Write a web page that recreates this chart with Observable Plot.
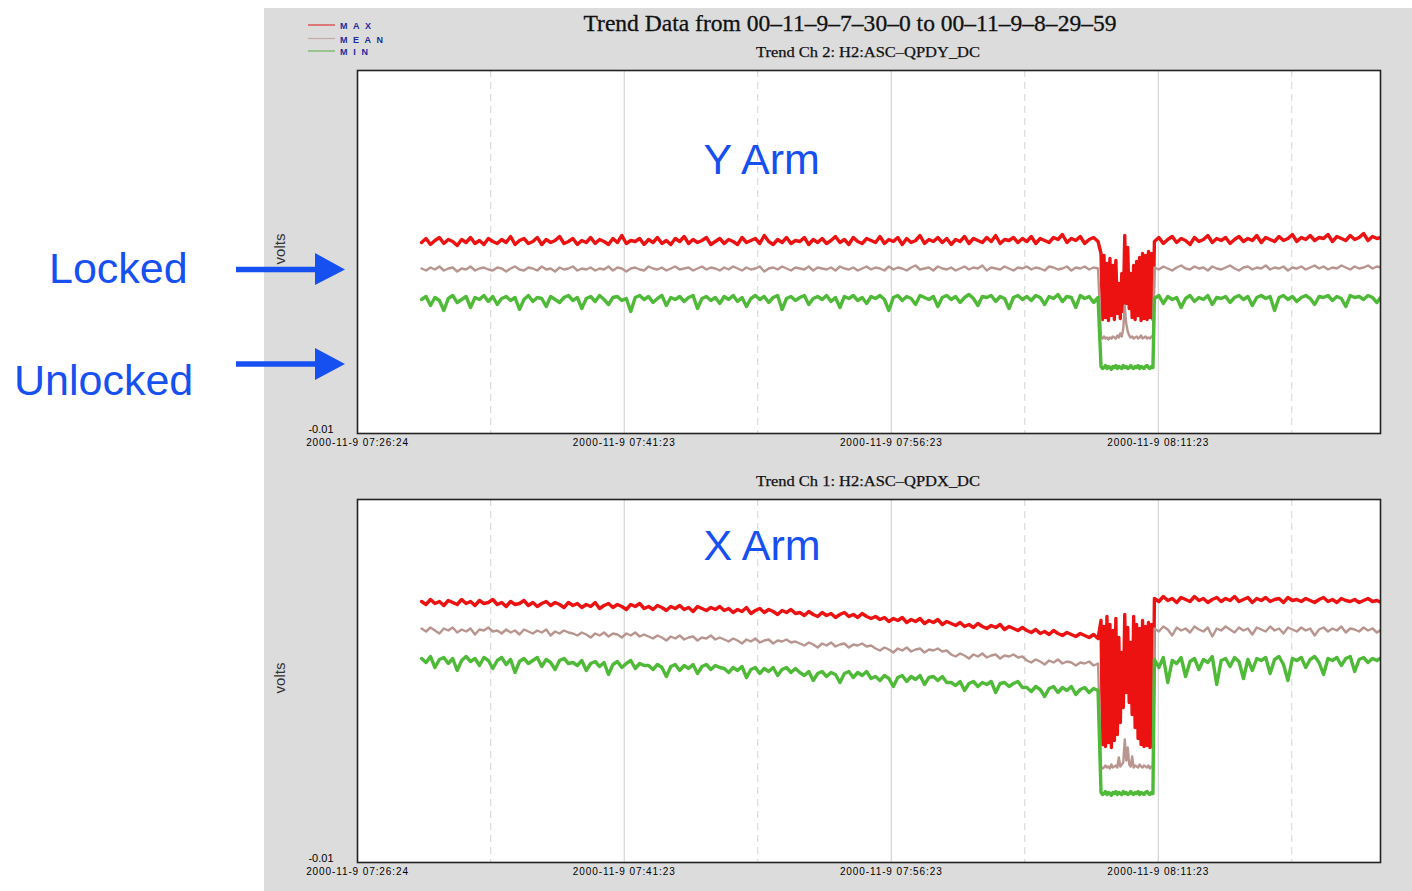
<!DOCTYPE html>
<html><head><meta charset="utf-8">
<script src="https://cdn.jsdelivr.net/npm/d3@7"></script>
<script src="https://cdn.jsdelivr.net/npm/@observablehq/plot@0.6"></script>
<style>
body{margin:0;background:#fff;}
#page{position:relative;width:1412px;height:891px;overflow:hidden;font-family:"Liberation Sans",Arial,sans-serif;}
#panel{position:absolute;left:264px;top:8px;width:1148px;height:883px;background:#dcdcdc;}
#top,#bottom{position:absolute;left:0;}
#top{top:0px}
#bottom{top:453px}
#overlay{position:absolute;left:0;top:0;pointer-events:none}
g[aria-label="x-axis tick label"]{letter-spacing:0.9px}
</style></head>
<body><div id="page"><div id="panel"></div><div id="top"></div><div id="bottom"></div>
<svg id="overlay" width="1412" height="891">
<text x="850" y="31" text-anchor="middle" font-family="Liberation Serif" font-size="23" textLength="533" lengthAdjust="spacingAndGlyphs" fill="#111" stroke="#111" stroke-width="0.3">Trend Data from 00–11–9–7–30–0 to 00–11–9–8–29–59</text>
<text x="868" y="57" text-anchor="middle" font-family="Liberation Serif" font-size="14" textLength="224" lengthAdjust="spacingAndGlyphs" fill="#111" stroke="#111" stroke-width="0.25">Trend Ch 2: H2:ASC–QPDY_DC</text>
<text x="868" y="486" text-anchor="middle" font-family="Liberation Serif" font-size="14" textLength="224" lengthAdjust="spacingAndGlyphs" fill="#111" stroke="#111" stroke-width="0.25">Trend Ch 1: H2:ASC–QPDX_DC</text>
<g font-family="Liberation Sans" font-weight="bold" font-size="9" fill="#1c2a9c">
<line x1="308" x2="335" y1="25" y2="25" stroke="#e03434" stroke-width="1.2"/>
<line x1="308" x2="335" y1="38.5" y2="38.5" stroke="#c4aaa4" stroke-width="1.2"/>
<line x1="308" x2="335" y1="51" y2="51" stroke="#6cb45c" stroke-width="1.2"/>
<text x="340" y="29" textLength="31" lengthAdjust="spacing">MAX</text>
<text x="340" y="42.5" textLength="43" lengthAdjust="spacing">MEAN</text>
<text x="340" y="55" textLength="28" lengthAdjust="spacing">MIN</text>
</g>
<g fill="#1650f0" font-family="Liberation Sans" font-size="43">
<text x="49" y="283">Locked</text>
<text x="14" y="395">Unlocked</text>
</g>
<g stroke="#1650f0" fill="#1650f0">
<line x1="236" x2="318" y1="269.5" y2="269.5" stroke-width="5.5"/>
<polygon points="315,253 345,269.5 315,285" stroke="none"/>
<line x1="236" x2="318" y1="364" y2="364" stroke-width="5.5"/>
<polygon points="315,348 345,364 315,380" stroke="none"/>
</g>
</svg>
</div>
<script>
// sampling (timestamps of the trend samples)
const sampleStart = new Date(2000,10,9,7,30,0);   // locked period A, 15 s samples
const unlockStart = new Date(2000,10,9,8,8,10);   // unlocked period, 5 s samples
const relockStart = new Date(2000,10,9,8,11,10);  // locked period B, 15 s samples
const lockedStep = 15, unlockedStep = 5;
const xDomain = [new Date(2000,10,9,7,26,24), new Date(2000,10,9,8,23,52)];
const tickTimes = [new Date(2000,10,9,7,26,24), new Date(2000,10,9,7,41,23), new Date(2000,10,9,7,56,23), new Date(2000,10,9,8,11,23)];
const gridMajor = [new Date(2000,10,9,7,41,23), new Date(2000,10,9,7,56,23), new Date(2000,10,9,8,11,23)];
const gridMinor = [new Date(2000,10,9,7,33,53), new Date(2000,10,9,7,48,53), new Date(2000,10,9,8,3,53), new Date(2000,10,9,8,18,53)];
const yTicks = [-0.01];

// ---- Y arm (Trend Ch 2: H2:ASC-QPDY_DC), volts ----
const yArmMaxA = [
.181,.185,.179,.183,.186,.180,.184,.182,.178,.184,.181,.186,.180,.183,.179,.185,.182,
.180,.184,.181,.187,.179,.183,.185,.180,.182,.186,.179,.184,.181,.183,.187,.180,.182,
.185,.179,.183,.181,.186,.180,.184,.182,.179,.185,.181,.188,.180,.183,.182,.185,.179,
.184,.181,.186,.180,.183,.179,.185,.182,.187,.180,.184,.181,.183,.186,.179,.182,.185,
.180,.184,.182,.179,.186,.181,.183,.185,.180,.188,.182,.179,.184,.181,.186,.180,.183,
.182,.186,.179,.184,.181,.185,.180,.183,.187,.181,.184,.179,.186,.182,.180,.185,.183,
.181,.187,.180,.184,.182,.186,.179,.185,.181,.183,.188,.180,.184,.182,.186,.181,.185,
.179,.184,.182,.187,.180,.185,.183,.181,.186,.182,.188,.180,.184,.183,.186,.181,.185,
.182,.187,.180,.185,.183,.181,.186,.184,.189,.181,.185,.183,.187,.180,.184,.186,.182];
const yArmMaxU = [.170,.104,.168,.106,.160,.103,.165,.108,.158,.104,.163,.110,.140,.105,.150,.112,.188,.120,.176,.115,.150,.106,.158,.104,.162,.108,.166,.103,.170,.105,.168,.104,.172,.106,.170,.104];
const yArmMaxB = [
.182,.186,.180,.184,.187,.181,.185,.183,.179,.186,.182,.184,.188,.181,.185,.183,.186,
.180,.184,.187,.182,.185,.183,.188,.181,.186,.184,.182,.187,.183,.185,.189,.182,.186,
.184,.188,.183,.186,.185,.189,.182,.187,.185,.183,.188,.184,.186,.190,.183,.187,.185,.186];
const yArmMeanA = [
.155,.153,.156,.154,.157,.153,.155,.156,.152,.155,.154,.157,.153,.155,.156,.154,.153,
.156,.155,.152,.155,.157,.154,.153,.156,.155,.153,.157,.154,.155,.152,.156,.154,.155,
.157,.153,.155,.154,.156,.153,.155,.154,.157,.153,.156,.155,.152,.155,.156,.154,.153,
.157,.155,.154,.156,.153,.155,.157,.154,.155,.156,.153,.155,.157,.154,.156,.155,.153,
.156,.154,.157,.155,.153,.156,.154,.155,.157,.152,.155,.156,.154,.157,.155,.153,.156,
.155,.154,.157,.153,.156,.155,.154,.156,.153,.157,.155,.154,.156,.153,.155,.157,.154,
.156,.155,.153,.157,.154,.156,.155,.153,.156,.158,.154,.155,.156,.153,.157,.155,.154,
.156,.153,.155,.157,.154,.156,.155,.158,.153,.156,.155,.154,.157,.155,.153,.156,.155,
.157,.154,.156,.155,.153,.157,.156,.154,.155,.157,.153,.156,.155,.157,.154,.156,.155];
const yArmMeanU = [.086,.085,.087,.085,.086,.084,.086,.085,.087,.086,.085,.088,.086,.090,.087,.095,.118,.100,.092,.088,.086,.087,.085,.086,.087,.085,.086,.088,.085,.086,.087,.085,.086,.085,.087,.086];
const yArmMeanB = [
.156,.154,.157,.155,.153,.156,.158,.155,.154,.157,.155,.156,.153,.157,.155,.154,.156,
.158,.155,.153,.156,.157,.154,.156,.155,.158,.154,.156,.155,.157,.153,.156,.155,.157,
.154,.156,.158,.155,.157,.154,.156,.155,.158,.156,.154,.157,.155,.156,.158,.155,.157,.156];
const yArmMinA = [
.124,.127,.118,.126,.123,.113,.125,.128,.121,.124,.127,.116,.126,.124,.128,.122,.127,
.119,.125,.127,.123,.126,.114,.124,.128,.122,.126,.125,.117,.127,.124,.121,.126,.128,
.123,.126,.115,.125,.127,.122,.128,.124,.119,.126,.127,.123,.125,.112,.126,.128,.124,
.127,.121,.125,.128,.118,.126,.124,.127,.122,.126,.128,.115,.125,.127,.123,.126,.120,
.127,.124,.128,.122,.126,.117,.125,.128,.124,.127,.121,.126,.128,.114,.125,.127,.123,
.126,.128,.119,.125,.127,.124,.128,.122,.126,.116,.127,.125,.128,.123,.126,.120,.127,
.125,.128,.124,.113,.126,.128,.123,.127,.125,.119,.128,.126,.124,.127,.117,.126,.128,
.124,.127,.121,.126,.129,.125,.118,.127,.126,.128,.122,.127,.125,.115,.126,.128,.124,
.127,.123,.128,.126,.119,.127,.125,.129,.122,.127,.126,.116,.128,.125,.127,.121,.126];
const yArmMinU = [.057,.055,.056,.058,.055,.057,.056,.054,.057,.056,.058,.055,.057,.056,.055,.058,.056,.057,.055,.056,.058,.056,.055,.057,.056,.058,.055,.057,.056,.055,.057,.058,.056,.055,.057,.056];
const yArmMinB = [
.125,.128,.120,.127,.124,.126,.116,.125,.128,.122,.126,.124,.128,.119,.126,.125,.127,
.121,.126,.128,.124,.127,.118,.126,.128,.125,.127,.113,.126,.128,.124,.127,.122,.126,
.128,.125,.119,.127,.126,.128,.123,.127,.125,.117,.128,.126,.127,.124,.128,.126,.121,.127];

// ---- X arm (Trend Ch 1: H2:ASC-QPDX_DC), volts ----
const xArmMaxA = [
.251,.248,.253,.249,.251,.247,.252,.250,.248,.253,.249,.251,.247,.252,.249,.250,.253,
.248,.250,.246,.251,.248,.249,.252,.247,.250,.246,.249,.251,.247,.250,.248,.245,.250,
.247,.249,.245,.248,.246,.250,.244,.247,.249,.245,.248,.246,.243,.248,.246,.249,.244,
.246,.243,.247,.245,.242,.246,.244,.247,.243,.245,.241,.246,.244,.242,.245,.243,.246,
.242,.244,.240,.243,.241,.245,.239,.242,.244,.240,.243,.241,.238,.242,.240,.243,.239,
.240,.237,.241,.238,.236,.240,.237,.239,.235,.238,.240,.236,.238,.235,.239,.236,.234,
.236,.233,.235,.231,.234,.232,.235,.230,.233,.231,.234,.229,.232,.230,.233,.228,.231,
.229,.227,.230,.226,.228,.225,.229,.226,.224,.227,.225,.228,.223,.226,.224,.222,.225,
.222,.220,.223,.219,.221,.218,.222,.219,.217,.220,.218,.216,.219,.217,.215,.218,.214];
const xArmMaxU = [.232,.108,.226,.106,.236,.110,.228,.105,.222,.112,.234,.118,.215,.130,.200,.145,.238,.160,.225,.150,.210,.138,.236,.125,.228,.114,.224,.108,.232,.106,.226,.107,.230,.105,.228,.106];
const xArmMaxB = [
.254,.251,.256,.252,.254,.250,.255,.253,.251,.256,.252,.254,.250,.253,.255,.251,.254,
.252,.256,.251,.253,.255,.250,.254,.252,.255,.251,.253,.254,.250,.255,.252,.253,.251,
.254,.252,.250,.253,.255,.251,.253,.250,.254,.252,.251,.253,.250,.252,.254,.251,.252,.250];
const xArmMeanA = [
.224,.221,.225,.222,.219,.224,.222,.225,.220,.223,.221,.224,.218,.223,.222,.225,.221,
.222,.219,.223,.220,.222,.218,.223,.221,.219,.222,.220,.223,.217,.221,.219,.222,.220,
.219,.217,.220,.218,.215,.219,.217,.220,.216,.219,.218,.215,.219,.217,.220,.216,.218,
.216,.214,.217,.215,.212,.216,.214,.217,.213,.215,.216,.212,.215,.214,.217,.213,.215,
.213,.211,.214,.212,.209,.213,.211,.214,.210,.212,.213,.209,.212,.211,.213,.210,.211,
.209,.207,.210,.208,.205,.209,.207,.210,.206,.208,.209,.205,.208,.207,.209,.206,.207,
.204,.202,.205,.203,.200,.204,.202,.205,.201,.203,.204,.200,.203,.202,.204,.201,.202,
.198,.196,.199,.197,.194,.198,.196,.199,.195,.197,.198,.194,.197,.196,.198,.195,.196,
.192,.190,.193,.191,.188,.192,.190,.193,.189,.191,.190,.187,.190,.189,.191,.187,.189];
const xArmMeanU = [.086,.084,.085,.087,.085,.086,.084,.088,.085,.086,.087,.085,.095,.086,.088,.090,.113,.092,.105,.088,.086,.096,.085,.087,.086,.085,.088,.086,.085,.087,.086,.085,.087,.084,.086,.085];
const xArmMeanB = [
.224,.221,.226,.223,.217,.225,.222,.224,.220,.226,.223,.221,.225,.216,.224,.222,.226,
.223,.220,.225,.222,.224,.218,.225,.223,.221,.226,.222,.224,.219,.225,.223,.221,.225,
.222,.224,.217,.223,.225,.221,.224,.222,.226,.220,.224,.223,.221,.225,.222,.224,.220,.223];
const xArmMinA = [
.194,.190,.196,.185,.193,.195,.189,.194,.182,.192,.196,.191,.194,.187,.195,.192,.184,
.192,.195,.188,.193,.180,.191,.194,.189,.192,.195,.186,.193,.190,.183,.192,.194,.189,
.190,.187,.192,.182,.189,.191,.186,.190,.178,.188,.191,.185,.189,.192,.184,.189,.187,
.187,.183,.188,.185,.176,.186,.188,.182,.187,.184,.188,.179,.186,.188,.183,.187,.185,
.184,.180,.185,.182,.186,.175,.183,.185,.179,.184,.181,.185,.177,.183,.185,.180,.184,
.180,.177,.181,.172,.179,.181,.176,.180,.178,.170,.179,.181,.175,.180,.177,.181,.174,
.176,.172,.177,.174,.166,.175,.177,.171,.176,.173,.177,.168,.175,.176,.172,.176,.170,
.170,.167,.171,.162,.169,.171,.166,.170,.168,.171,.160,.169,.170,.166,.169,.171,.165,
.165,.161,.166,.163,.156,.164,.166,.160,.165,.162,.166,.158,.163,.165,.160,.164,.162];
const xArmMinU = [.060,.058,.059,.061,.058,.060,.059,.057,.060,.059,.061,.058,.060,.059,.058,.061,.059,.060,.058,.059,.061,.059,.058,.060,.059,.061,.058,.060,.059,.058,.060,.061,.059,.058,.060,.059];
const xArmMinB = [
.193,.185,.195,.170,.192,.189,.195,.176,.191,.194,.183,.193,.190,.196,.168,.192,.194,
.186,.195,.191,.174,.193,.182,.194,.192,.195,.179,.193,.196,.188,.172,.194,.192,.195,
.185,.193,.196,.190,.178,.194,.192,.195,.187,.194,.196,.181,.193,.195,.190,.194,.192,.195];

const seriesColors = {MAX:"#ec1212", MEAN:"#b8958f", MIN:"#4fba38"};
const seriesWidths = {MAX:3.4, MEAN:2.4, MIN:3.4};

function stamps(start, step, n){ return d3.range(n).map(i => new Date(+start + i*step*1000)); }
function trace(a, u, b){
  const ta = stamps(sampleStart, lockedStep, a.length);
  const tu = stamps(unlockStart, unlockedStep, u.length);
  const tb = stamps(relockStart, lockedStep, b.length);
  return [...a.map((v,i)=>({t:ta[i], v})), ...u.map((v,i)=>({t:tu[i], v})), ...b.map((v,i)=>({t:tb[i], v}))];
}
const fmt = d3.timeFormat("%Y-%-m-%-d %H:%M:%S");

function chart(traces, armLabel, labelDy, marginTop, marginBottom){
  const lines = ["MAX","MEAN","MIN"].map(k => Plot.line(traces[k], {x:"t", y:"v", stroke:seriesColors[k], strokeWidth:seriesWidths[k], clip:true}));
  return Plot.plot({
    width:1412, height: marginTop + 363 + marginBottom,
    marginTop, marginBottom, marginLeft:357, marginRight:32,
    style:{background:"transparent", fontFamily:"Liberation Sans", fontSize:"10px", overflow:"visible"},
    x:{type:"time", domain:xDomain},
    y:{domain:[-0.01, 0.353]},
    marks:[
      Plot.frame({fill:"white"}),
      Plot.ruleX(gridMinor, {stroke:"#d4d4d4", strokeDasharray:"7,5"}),
      Plot.ruleX(gridMajor, {stroke:"#cdcdcd"}),
      Plot.axisX({ticks:tickTimes, tickSize:0, tickPadding:5, tickFormat:fmt, fontSize:10, label:null, fill:"#000"}),
      Plot.axisY({ticks:yTicks, tickSize:0, tickPadding:24, dy:-4, tickFormat:d=>d.toFixed(2), fontSize:11, label:null, fill:"#000"}),
      ...lines,
      Plot.text([armLabel], {text:d=>d, frameAnchor:"top-left", dx:346, dy:labelDy, textAnchor:"start", lineAnchor:"middle", fontSize:43, fill:"#1650f0", fontFamily:"Liberation Sans"}),
      Plot.text(["volts"], {text:d=>d, frameAnchor:"left", dx:-77, dy:-3, rotate:-90, textAnchor:"middle", fontSize:15, fill:"#333"}),
      Plot.frame({stroke:"#222", strokeWidth:1.6})
    ]
  });
}

document.getElementById("top").append(chart({
  MAX: trace(yArmMaxA, yArmMaxU, yArmMaxB),
  MEAN: trace(yArmMeanA, yArmMeanU, yArmMeanB),
  MIN: trace(yArmMinA, yArmMinU, yArmMinB)
}, "Y Arm", 90, 70, 20));

document.getElementById("bottom").append(chart({
  MAX: trace(xArmMaxA, xArmMaxU, xArmMaxB),
  MEAN: trace(xArmMeanA, xArmMeanU, xArmMeanB),
  MIN: trace(xArmMinA, xArmMinU, xArmMinB)
}, "X Arm", 47, 46, 29));
</script>
</body></html>
